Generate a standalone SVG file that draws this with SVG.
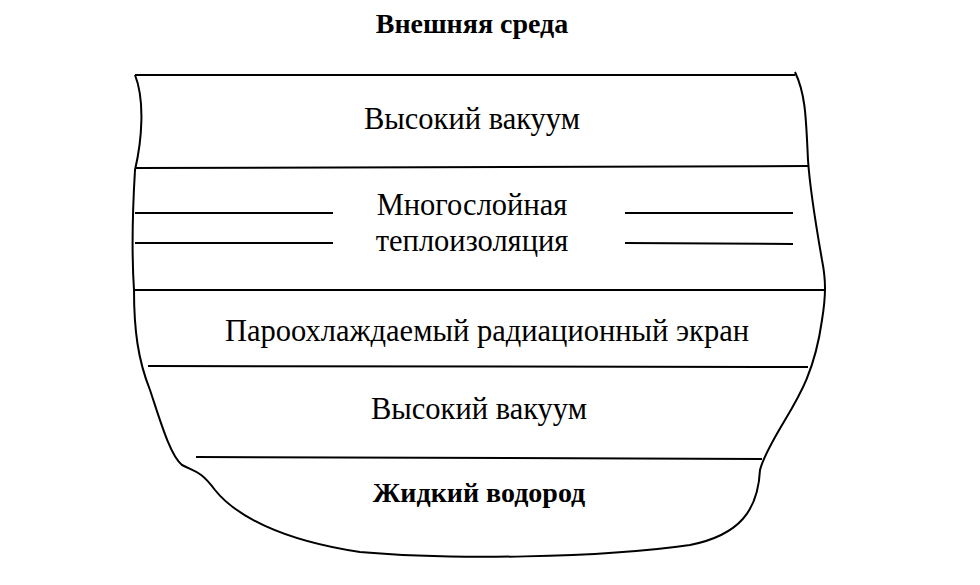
<svg xmlns="http://www.w3.org/2000/svg" width="980" height="585" viewBox="0 0 980 585">
<style>
.l{stroke:#000;stroke-width:2;fill:none}
.t{font-family:"Liberation Serif",serif;font-size:30.5px;text-anchor:middle;fill:#000}
.b{font-family:"Liberation Serif",serif;font-size:28px;font-weight:bold;text-anchor:middle;fill:#000}
</style>
<rect width="980" height="585" fill="#fff"/>
<g id="outline">
<path class="l" d="M135,75 C145,100 142,140 135,170 C132,220 132,260 134,290 C134,330 138,360 150,390 C160,420 170,455 182,465 C195,472 200,470 215,490 C235,515 280,540 360,552 C450,560 600,558 690,545 C740,535 758,510 760,470 C762,462 770,445 785,420 C800,395 815,370 822,320 C826,295 826,280 822,260 C815,220 810,190 808,160 C806,120 806,95 795,72"/>
</g>
<g id="layers">
<line class="l" x1="135" y1="75" x2="795" y2="75"/>
<line class="l" x1="136" y1="168" x2="808" y2="166"/>
<line class="l" x1="134" y1="290" x2="824" y2="290"/>
<line class="l" x1="148" y1="366" x2="808" y2="367"/>
<line class="l" x1="196" y1="457" x2="762" y2="459"/>
<line class="l" x1="135" y1="213" x2="333" y2="213"/>
<line class="l" x1="135" y1="243" x2="333" y2="243"/>
<line class="l" x1="625" y1="213" x2="793" y2="213"/>
<line class="l" x1="625" y1="243" x2="793" y2="244"/>
</g>
<g id="labels">
<text class="b" x="472" y="33">Внешняя среда</text>
<text class="t" x="472" y="129">Высокий вакуум</text>
<text class="t" x="472" y="215">Многослойная</text>
<text class="t" x="472" y="251">теплоизоляция</text>
<text class="t" x="487" y="341">Пароохлаждаемый радиационный экран</text>
<text class="t" x="479" y="419">Высокий вакуум</text>
<text class="b" x="479" y="502">Жидкий водород</text>
</g>
</svg>
